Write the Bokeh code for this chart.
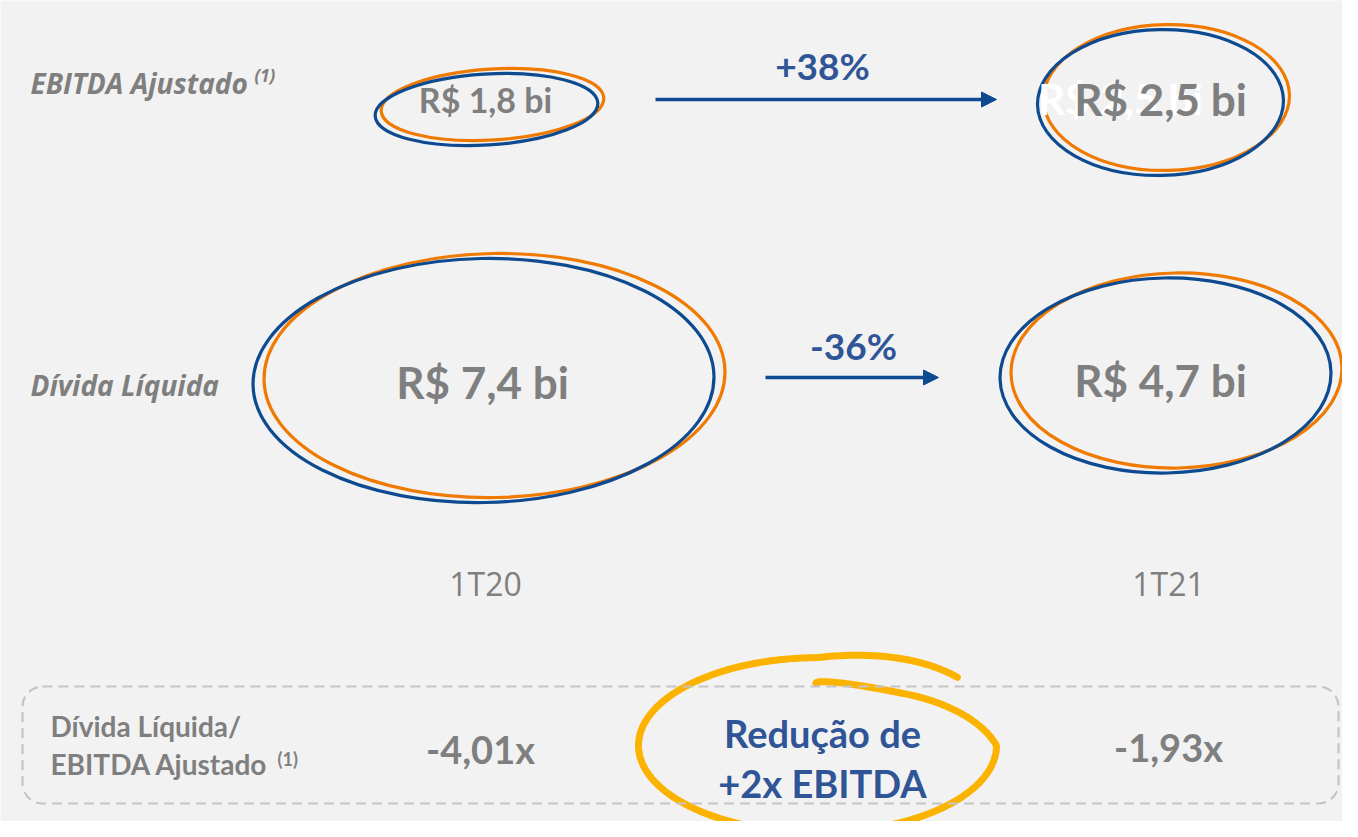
import numpy as np
from bokeh.plotting import figure
from bokeh.models import Range1d, Arrow, NormalHead, BoxAnnotation
from bokeh.core.properties import value
from bokeh.embed import file_html
from bokeh.resources import INLINE

# ---- data ----
periods = ["1T20", "1T21"]
ebitda_bi = [1.8, 2.5]
divida_bi = [7.4, 4.7]
leverage_x = [-4.01, -1.93]
change_labels = ["+38%", "-36%"]
row_labels = ["EBITDA Ajustado", "Dívida Líquida"]
box_label = ["Dívida Líquida/", "EBITDA Ajustado"]
highlight = ["Redução de", "+2x EBITDA"]

GRAY = "#7f7f7f"
BLUE = "#0d4a90"
TBLUE = "#2f5597"
ORANGE = "#f07a00"
YELLOW = "#fcb300"
BG = "#f2f2f2"

def money(v):
    return ("R$ %.1f bi" % v).replace(".", ",")

def mult(v):
    return ("%.2fx" % v).replace(".", ",")

W, H = 1342, 821
p = figure(width=W, height=H, output_backend="svg", toolbar_location=None,
           x_range=Range1d(0, W), y_range=Range1d(H, 0),
           min_border=0)
p.axis.visible = False
p.grid.visible = False
p.outline_line_color = None
p.background_fill_color = BG
p.border_fill_color = BG

# ---- ellipses (layout) ----
eb = dict(cx=[486, 1160], cy=[109, 102], w=[223, 246], h=[71, 146])
dv = dict(cx=[483, 1165], cy=[380, 375], w=[461, 331], h=[244, 195])

for d, off, ang in [(eb, (6, -5), [0.06, 0.02]), (dv, (11, -5), [0.02, 0.02])]:
    p.ellipse(x=[c + off[0] for c in d["cx"]], y=[c + off[1] for c in d["cy"]],
              width=d["w"], height=d["h"], angle=ang, fill_alpha=0,
              line_color=ORANGE, line_width=3.2)
    p.ellipse(x=d["cx"], y=d["cy"], width=d["w"], height=d["h"], angle=ang,
              fill_alpha=0, line_color=BLUE, line_width=3.2)

LATO = value("Lato")
OPEN = value("Open Sans")

# ghost text (artefact in reference)
p.text(x=[1120], y=[98], text=[money(ebitda_bi[1])], text_color="white",
       text_font=LATO, text_font_style="bold", text_font_size="42px",
       text_align="center", text_baseline="middle")

# values
p.text(x=[485, 1160], y=[99, 98], text=[money(v) for v in ebitda_bi],
       text_color=GRAY, text_font=LATO, text_font_style="bold",
       text_font_size=["34px", "44px"], text_align="center", text_baseline="middle")
p.text(x=[482, 1160], y=[381, 379], text=[money(v) for v in divida_bi],
       text_color=GRAY, text_font=LATO, text_font_style="bold",
       text_font_size="44px", text_align="center", text_baseline="middle")

# row labels
p.text(x=[30, 30], y=[82, 384], text=row_labels, text_color=GRAY,
       text_font=OPEN, text_font_style="bold italic",
       text_font_size="28px", text_align="left", text_baseline="middle")
p.text(x=[254], y=[75], text=["(1)"], text_color=GRAY,
       text_font=OPEN, text_font_style="bold italic",
       text_font_size="17px", text_align="left", text_baseline="middle")

# arrows + change labels
head = dict(size=15, line_color=BLUE, fill_color=BLUE)
p.add_layout(Arrow(end=NormalHead(**head), x_start=655, y_start=99, x_end=996, y_end=99,
                   line_color=BLUE, line_width=3.5))
p.add_layout(Arrow(end=NormalHead(**head), x_start=765, y_start=377, x_end=938, y_end=377,
                   line_color=BLUE, line_width=3.5))
p.text(x=[822, 853], y=[65, 345], text=change_labels, text_color=TBLUE,
       text_font=LATO, text_font_style="bold", text_font_size="37px",
       text_align="center", text_baseline="middle")

# period labels
p.text(x=[485, 1168], y=[583, 583], text=periods, text_color=GRAY,
       text_font=OPEN, text_font_size="32px",
       text_align="center", text_baseline="middle")

# dashed rounded box
p.add_layout(BoxAnnotation(left=22, right=1338, top=686, bottom=803,
                           fill_alpha=0, line_alpha=1.0,
                           line_color="#c4c4c4", line_width=2.2, line_dash="10 6",
                           border_radius=20))

p.text(x=[50, 50], y=[725, 763], text=box_label, text_color=GRAY,
       text_font=LATO, text_font_style="bold", text_font_size="28px",
       text_align="left", text_baseline="middle")
p.text(x=[277], y=[758], text=["(1)"], text_color=GRAY,
       text_font=LATO, text_font_style="bold", text_font_size="18px",
       text_align="left", text_baseline="middle")
p.text(x=[480, 1168], y=[748, 746], text=[mult(v) for v in leverage_x], text_color=GRAY,
       text_font=LATO, text_font_style="bold", text_font_size="38px",
       text_align="center", text_baseline="middle")

# hand-drawn yellow loop
t = np.radians(np.linspace(40, 455, 400))
kt = np.radians([40, 90, 180, 270, 360, 405, 455])
fx = np.interp(t, kt, [1.02, 1.0, 1.0, 1.0, 1.0, 0.78, 0.1])
fy = np.interp(t, kt, [1.22, 1.01, 1.0, 1.0, 1.0, 0.8, 0.72])
cx, cy, rx, ry = 817, 745, 179, 87
xs = cx + rx * fx * np.cos(t)
ys = cy - ry * fy * np.sin(t)
p.line(xs, ys, line_color=YELLOW, line_width=7, line_cap="round", line_join="round")

p.text(x=[822, 822], y=[732, 782], text=highlight, text_color=TBLUE,
       text_font=LATO, text_font_style="bold", text_font_size="38px",
       text_align="center", text_baseline="middle")

open("out.html", "w").write(file_html(p, INLINE))
